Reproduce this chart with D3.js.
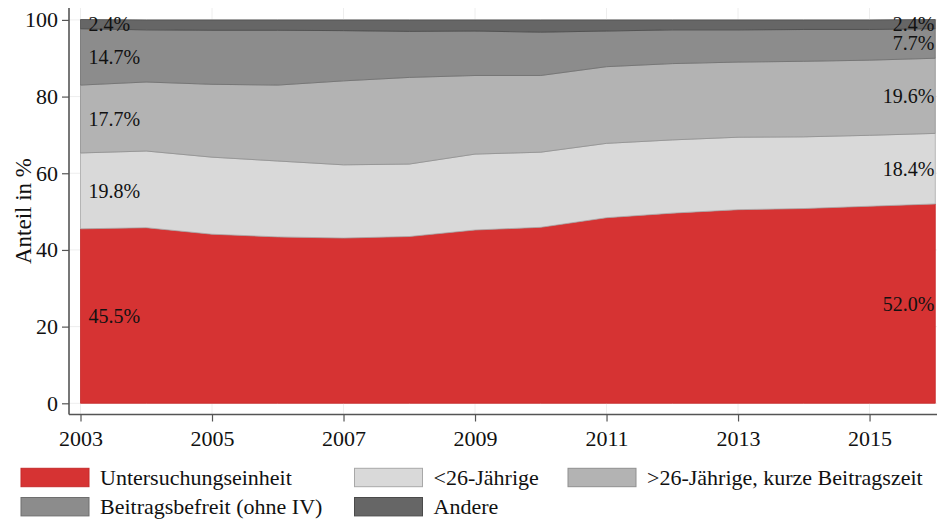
<!DOCTYPE html>
<html>
<head>
<meta charset="utf-8">
<script src="https://cdn.jsdelivr.net/npm/d3@7"></script>
<style>
  html, body { margin: 0; padding: 0; background: #fff; }
  svg { display: block; font-family: "Liberation Serif", "Times New Roman", serif; }
</style>
</head>
<body>
<svg id="chart" width="937" height="520"></svg>
<script>
// ---- data ----
const years = [2003, 2004, 2005, 2006, 2007, 2008, 2009, 2010, 2011, 2012, 2013, 2014, 2015, 2016];
const seriesNames = ["Untersuchungseinheit", "<26-Jährige", ">26-Jährige, kurze Beitragszeit", "Beitragsbefreit (ohne IV)", "Andere"];
const untersuchungseinheit = [45.5, 45.8, 44.1, 43.4, 43.1, 43.5, 45.2, 45.9, 48.4, 49.6, 50.5, 50.8, 51.4, 52.0];
const unter26 = [19.8, 20.0, 20.1, 19.8, 19.1, 18.9, 19.8, 19.6, 19.4, 19.1, 18.9, 18.7, 18.5, 18.4];
const ueber26 = [17.7, 18.0, 19.0, 19.8, 21.9, 22.6, 20.5, 20.0, 20.0, 19.9, 19.6, 19.7, 19.6, 19.6];
const beitragsbefreit = [14.7, 13.6, 14.1, 14.3, 13.1, 12.0, 11.6, 11.3, 9.3, 8.8, 8.4, 8.3, 8.0, 7.7];
const andere = [2.4, 2.6, 2.7, 2.7, 2.8, 3.0, 2.9, 3.2, 2.9, 2.6, 2.6, 2.5, 2.5, 2.4];
const yTicks = [0, 20, 40, 60, 80, 100];
const xTicks = [2003, 2005, 2007, 2009, 2011, 2013, 2015];
const yLabel = "Anteil in %";

const fills = ["#d63333", "#d9d9d9", "#b3b3b3", "#8c8c8c", "#666666"];
const strokes = ["#c62a2a", "#a8a8a8", "#8f8f8f", "#6e6e6e", "#4a4a4a"];

const seriesValues = [untersuchungseinheit, unter26, ueber26, beitragsbefreit, andere];
const keys = ["s0", "s1", "s2", "s3", "s4"];
const table = years.map((yr, i) => {
  const row = { year: yr };
  keys.forEach((k, j) => row[k] = seriesValues[j][i]);
  return row;
});

// ---- layout ----
const svg = d3.select("#chart");
const plotLeft = 69, plotRight = 937, plotTop = 8, plotBottom = 414.5;
const x = d3.scaleLinear().domain([2003, 2016]).range([80.5, 935.3]);
const y = d3.scaleLinear().domain([0, 100]).range([403.3, 19.9]);
const serif = '"Liberation Serif", "Times New Roman", serif';

// grid
const grid = svg.append("g");
grid.selectAll("line.h").data(yTicks).join("line")
  .attr("x1", plotLeft).attr("x2", plotRight)
  .attr("y1", d => y(d)).attr("y2", d => y(d))
  .attr("stroke", "#eeeeee").attr("stroke-width", 1);
grid.selectAll("line.v").data(xTicks).join("line")
  .attr("x1", d => x(d)).attr("x2", d => x(d))
  .attr("y1", plotTop).attr("y2", plotBottom)
  .attr("stroke", "#eeeeee").attr("stroke-width", 1);

// stacked areas
const stack = d3.stack().keys(keys);
const stacked = stack(table);
const area = d3.area()
  .x(d => x(d.data.year))
  .y0(d => y(d[0]))
  .y1(d => y(d[1]));
svg.append("g").selectAll("path").data(stacked).join("path")
  .attr("d", area)
  .attr("fill", (d, i) => fills[i])
  .attr("stroke", (d, i) => strokes[i])
  .attr("stroke-width", 0.8);

// axes
const yAxis = d3.axisLeft(y).tickValues(yTicks).tickSize(7).tickPadding(4).tickFormat(d3.format("d"));
const gy = svg.append("g").attr("transform", `translate(${plotLeft},0)`).call(yAxis);
gy.select(".domain").attr("d", `M0,${plotTop}V${plotBottom}`);
const xAxis = d3.axisBottom(x).tickValues(xTicks).tickSize(7).tickPadding(9).tickFormat(d3.format("d"));
const gx = svg.append("g").attr("transform", `translate(0,${plotBottom})`).call(xAxis);
gx.select(".domain").attr("d", `M${plotLeft},0H${plotRight}`);
[gx, gy].forEach(g => {
  g.attr("font-family", serif).attr("font-size", 22);
  g.select(".domain").attr("stroke", "#555").attr("stroke-width", 1.6);
  g.selectAll(".tick line").attr("stroke", "#555").attr("stroke-width", 1.2);
  g.selectAll(".tick text").attr("fill", "#111");
});

// y label
svg.append("text")
  .attr("transform", `translate(31,211) rotate(-90)`)
  .attr("text-anchor", "middle")
  .style("font-size", "23px").attr("fill", "#111")
  .text(yLabel);

// value labels (first and last year), centered in each band
const fmt = d3.format(".1f");
const first = 0, last = years.length - 1;
const labelG = svg.append("g").style("font-size", "20px").attr("fill", "#111");
stacked.forEach((s, i) => {
  const a = s[first], b = s[last];
  labelG.append("text")
    .attr("x", x(years[first]) + 8).attr("y", y((a[0] + a[1]) / 2))
    .attr("dominant-baseline", "central")
    .text(fmt(seriesValues[i][first]) + "%");
  labelG.append("text")
    .attr("x", x(years[last]) - 1).attr("y", y((b[0] + b[1]) / 2))
    .attr("dominant-baseline", "central").attr("text-anchor", "end")
    .text(fmt(seriesValues[i][last]) + "%");
});

// legend
const legendPos = [
  { x: 21, y: 468.3 }, { x: 354.5, y: 468.3 }, { x: 568, y: 468.3 },
  { x: 21, y: 497.5 }, { x: 354.5, y: 497.5 }
];
const lg = svg.append("g");
seriesNames.forEach((name, i) => {
  const p = legendPos[i];
  lg.append("rect").attr("x", p.x).attr("y", p.y).attr("width", 68).attr("height", 18.4)
    .attr("fill", fills[i]).attr("stroke", strokes[i]).attr("stroke-width", 1);
  lg.append("text").attr("x", p.x + 79).attr("y", p.y + 9.2)
    .attr("dominant-baseline", "central")
    .style("font-size", "22px").attr("fill", "#111")
    .text(name);
});
</script>
</body>
</html>
